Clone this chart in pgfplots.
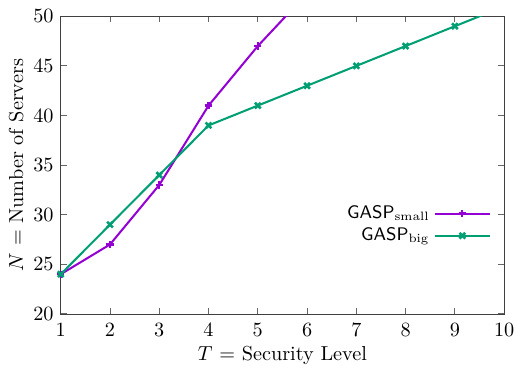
\documentclass[border=0pt]{standalone}
\usepackage{pgfplots}
\pgfplotsset{compat=1.18}
\definecolor{gpurple}{RGB}{148,0,211}
\definecolor{ggreen}{RGB}{0,158,115}
\begin{document}
\begin{tikzpicture}
\begin{axis}[
  scale only axis,
  width=219pt, height=147pt,
  xmin=1, xmax=10, ymin=20, ymax=50,
  xtick={1,...,10}, ytick={20,25,...,50},
  tick align=inside,
  axis line style={black!75},
  tick style={black!60, line width=0.5pt},
  major tick length=3pt,
  xticklabel style={yshift=-1pt},
  xlabel={$T$ = Security Level},
  ylabel={$N$ = Number of Servers},
  xlabel style={yshift=2pt},
  ylabel style={yshift=-2pt},
  legend plot pos=right,
  legend cell align=right,
  legend style={draw=none, fill=none, at={(rel axis cs:0.985,0.30)}, anchor=east, row sep=-1pt, font=\small},
  legend image code/.code={\draw[mark repeat=2,mark phase=2,#1] plot coordinates {(0cm,0cm) (0.48cm,0cm) (0.96cm,0cm)};},
]
\addplot[gpurple, line width=1pt, mark=+, mark size=1.8pt, mark options={line width=1.1pt}] coordinates {
(1,24) (2,27) (3,33) (4,41) (5,47) (6,52.3)};
\addlegendentry{\textsf{GASP}$_{\mathrm{small}}$}
\addplot[ggreen, line width=1pt, mark=x, mark size=2pt, mark options={line width=1.3pt}] coordinates {
(1,24) (2,29) (3,34) (4,39) (5,41) (6,43) (7,45) (8,47) (9,49) (10,51)};
\addlegendentry{\textsf{GASP}$_{\mathrm{big}}$}
\end{axis}
\path ([xshift=-1pt,yshift=1.5pt]current bounding box.north west) rectangle (current bounding box.south east);
\end{tikzpicture}
\end{document}
